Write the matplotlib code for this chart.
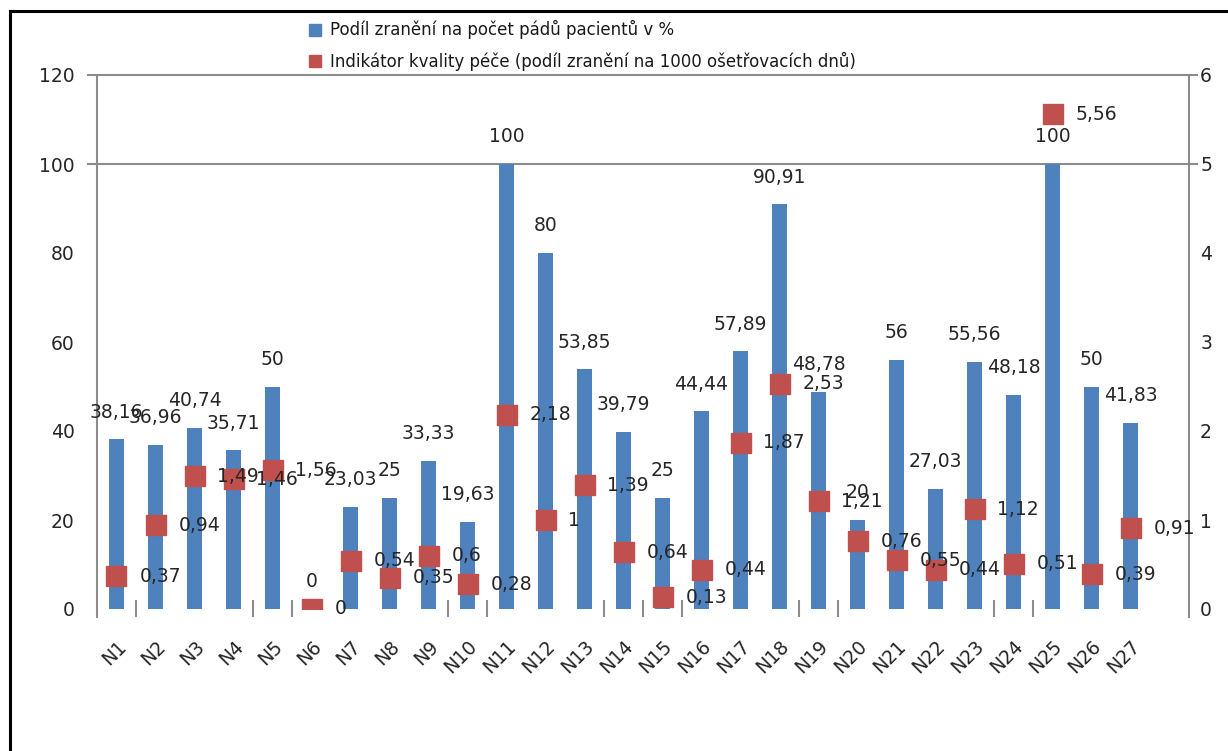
import matplotlib
matplotlib.use("Agg")
import matplotlib.pyplot as plt
import matplotlib.transforms as mtransforms
from matplotlib.lines import Line2D
import numpy as np

# Data
categories = [f"N{i}" for i in range(1, 28)]
injury_pct = [38.16, 36.96, 40.74, 35.71, 50, 0, 23.03, 25, 33.33, 19.63,
              100, 80, 53.85, 39.79, 25, 44.44, 57.89, 90.91, 48.78, 20,
              56, 27.03, 55.56, 48.18, 100, 50, 41.83]
quality_idx = [0.37, 0.94, 1.49, 1.46, 1.56, 0, 0.54, 0.35, 0.6, 0.28,
               2.18, 1, 1.39, 0.64, 0.13, 0.44, 1.87, 2.53, 1.21, 0.76,
               0.55, 0.44, 1.12, 0.51, 5.56, 0.39, 0.91]
left_ticks = [0, 20, 40, 60, 80, 100, 120]
right_ticks = [0, 1, 2, 3, 4, 5, 6]
label_bar = "Podíl zranění na počet pádů pacientů v %"
label_idx = "Indikátor kvality péče (podíl zranění na 1000 ošetřovacích dnů)"

BLUE = "#4F81BD"
RED = "#C0504D"
AXIS_GREY = "#8C8C8C"
TEXT = "#262626"

W, H = 1228, 751
fig = plt.figure(figsize=(W / 100, H / 100), dpi=100)
ax = fig.add_axes([97 / W, 1 - 609 / H, (1189 - 97) / W, (609 - 75) / H])
ax2 = ax.twinx()

x = np.arange(len(categories))

def fmt(v):
    return f"{v:g}".replace(".", ",")

# bars (left axis)
ax.bar(x, injury_pct, width=0.41, color=BLUE, zorder=2)
for xi, v in zip(x, injury_pct):
    ax.annotate(fmt(v), (xi, v), xytext=(0, 19.5), textcoords="offset points",
                ha="center", va="center", fontsize=13.5, color=TEXT, zorder=3)

# square markers (right axis)
ax2.plot(x, quality_idx, "s", ms=14, color=RED, linestyle="none", zorder=4)
for xi, v in zip(x, quality_idx):
    ax2.annotate(fmt(v), (xi, v), xytext=(16.5, 0), textcoords="offset points",
                 ha="left", va="center", fontsize=13.5, color=TEXT, zorder=5)

ax.set_xlim(-0.5, 27.5)
ax.set_ylim(0, 120)
ax2.set_ylim(0, 6)

# only the two top gridlines are visible, running a bit past both axes
trans = mtransforms.blended_transform_factory(ax.transAxes, ax.transData)
for gy in [100, 120]:
    ax.plot([-9 / 1092, 1 + 8 / 1092], [gy, gy], color=AXIS_GREY, lw=1.5,
            transform=trans, clip_on=False, zorder=1)

# little category ticks poking through the (invisible) x axis
cat_ticks = [0.5, 3.5, 4.5, 8.5, 9.5, 12.5, 13.5, 14.5, 17.5, 18.5, 22.5, 23.5]
ax.vlines(cat_ticks, -1.8, 2, color=AXIS_GREY, lw=1.5, clip_on=False, zorder=1)

for a in (ax, ax2):
    for s in ("top", "bottom"):
        a.spines[s].set_visible(False)
ax.spines["right"].set_visible(False)
ax2.spines["left"].set_visible(False)
ax.spines["left"].set_color(AXIS_GREY)
ax.spines["left"].set_linewidth(1.5)
ax.spines["left"].set_bounds(-1.8, 120)
ax2.spines["right"].set_color(AXIS_GREY)
ax2.spines["right"].set_linewidth(1.5)
ax2.spines["right"].set_bounds(-0.09, 6)

ax.set_yticks(left_ticks)
ax.tick_params(axis="y", length=0, pad=16, labelsize=13.5, labelcolor=TEXT)
ax2.set_yticks(right_ticks)
ax2.tick_params(axis="y", length=0, pad=8, labelsize=13.5, labelcolor=TEXT)

ax.set_xticks(x)
ax.set_xticklabels(categories, rotation=45, ha="right", rotation_mode="anchor",
                   fontsize=13.5, color=TEXT)
ax.tick_params(axis="x", length=0, pad=20)

# legend at the top
handles = [Line2D([], [], marker="s", ms=8, color=BLUE, linestyle="none"),
           Line2D([], [], marker="s", ms=8, color=RED, linestyle="none")]
fig.legend(handles, [label_bar, label_idx], loc="upper left",
           bbox_to_anchor=(300 / W, 1 - 12 / H), frameon=False, fontsize=12,
           labelspacing=0.75, handlelength=0.8, handletextpad=0.5, borderpad=0,
           labelcolor="#1a1a1a")

# outer frame (left and top edges visible)
fig.add_artist(Line2D([10 / W, 10 / W], [0, 1 - 11 / H], color="black", lw=2.2))
fig.add_artist(Line2D([10 / W, 1], [1 - 11 / H, 1 - 11 / H], color="black", lw=2.2))

fig.savefig("out.png", dpi=100)
